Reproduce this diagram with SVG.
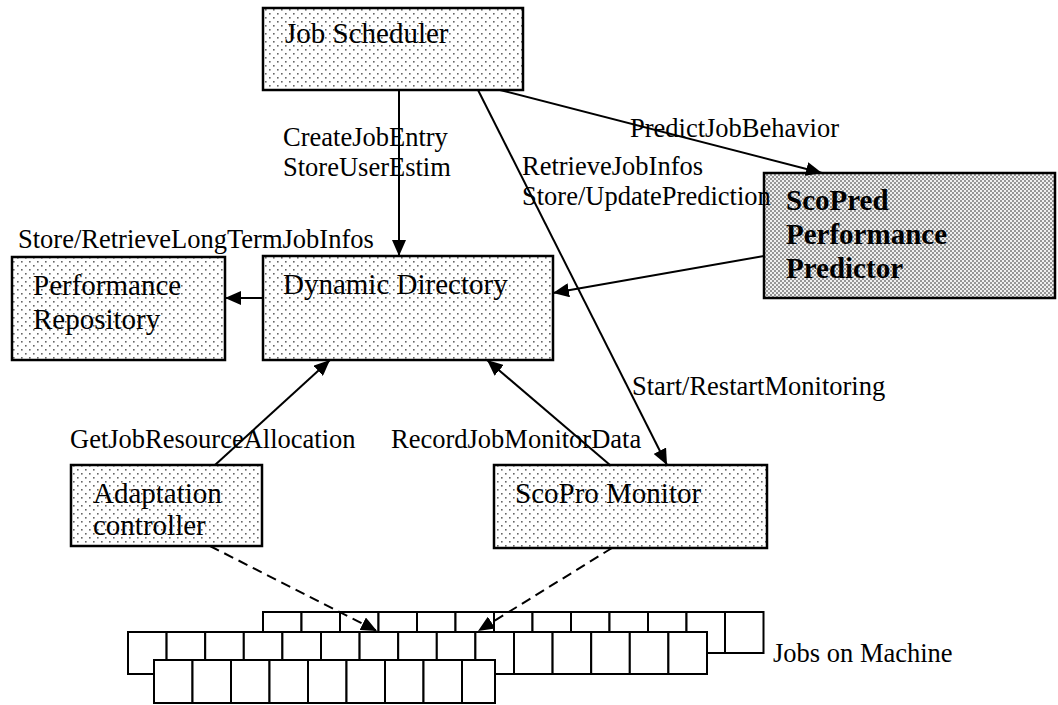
<svg xmlns="http://www.w3.org/2000/svg" width="1058" height="705" viewBox="0 0 1058 705">
<style>
.box{stroke:#000;stroke-width:2.5;fill:url(#dots)}
.dense{stroke:#000;stroke-width:2.5;fill:url(#dense)}
.bt{font-family:"Liberation Serif","Times New Roman",serif;font-size:29px;fill:#000}
.bb{font-family:"Liberation Serif","Times New Roman",serif;font-size:29px;font-weight:bold;fill:#000}
.lbl{font-family:"Liberation Serif","Times New Roman",serif;font-size:26.5px;fill:#000}
.ln{stroke:#000;stroke-width:2;fill:none}
.dash{stroke:#000;stroke-width:2;fill:none;stroke-dasharray:10 6}
.cell{stroke:#000;stroke-width:2;fill:#fff}
</style>
<defs>
<pattern id="dots" width="8" height="8" patternUnits="userSpaceOnUse">
<rect width="8" height="8" fill="#fff"/>
<rect x="1" y="1" width="1.6" height="1.6" fill="#666"/>
<rect x="5" y="5" width="1.6" height="1.6" fill="#666"/>
</pattern>
<pattern id="dense" width="4" height="4" patternUnits="userSpaceOnUse">
<rect width="4" height="4" fill="#f0f0f0"/>
<circle cx="1" cy="1" r="0.95" fill="#707070"/>
<circle cx="3" cy="3" r="0.95" fill="#707070"/>
</pattern>
<marker id="arr" viewBox="0 0 16 14" refX="16" refY="7" markerWidth="16" markerHeight="14" orient="auto" markerUnits="userSpaceOnUse">
<path d="M0,0 L16,7 L0,14 z" fill="#000"/>
</marker>
</defs>

<g id="jobs">
<g id="row-top">
<rect class="cell" x="263" y="612" width="38.5" height="41"/>
<rect class="cell" x="301.5" y="612" width="38.5" height="41"/>
<rect class="cell" x="340" y="612" width="38.5" height="41"/>
<rect class="cell" x="378.5" y="612" width="38.5" height="41"/>
<rect class="cell" x="417" y="612" width="38.5" height="41"/>
<rect class="cell" x="455.5" y="612" width="38.5" height="41"/>
<rect class="cell" x="494" y="612" width="38.5" height="41"/>
<rect class="cell" x="532.5" y="612" width="38.5" height="41"/>
<rect class="cell" x="571" y="612" width="38.5" height="41"/>
<rect class="cell" x="609.5" y="612" width="38.5" height="41"/>
<rect class="cell" x="648" y="612" width="38.5" height="41"/>
<rect class="cell" x="686.5" y="612" width="38.5" height="41"/>
<rect class="cell" x="725" y="612" width="38.5" height="41"/>
</g>
<g id="row-mid">
<rect class="cell" x="128" y="632" width="38.6" height="42"/>
<rect class="cell" x="166.6" y="632" width="38.6" height="42"/>
<rect class="cell" x="205.2" y="632" width="38.6" height="42"/>
<rect class="cell" x="243.8" y="632" width="38.6" height="42"/>
<rect class="cell" x="282.4" y="632" width="38.6" height="42"/>
<rect class="cell" x="321" y="632" width="38.6" height="42"/>
<rect class="cell" x="359.6" y="632" width="38.6" height="42"/>
<rect class="cell" x="398.2" y="632" width="38.6" height="42"/>
<rect class="cell" x="436.8" y="632" width="38.6" height="42"/>
<rect class="cell" x="475.4" y="632" width="38.6" height="42"/>
<rect class="cell" x="514" y="632" width="38.6" height="42"/>
<rect class="cell" x="552.6" y="632" width="38.6" height="42"/>
<rect class="cell" x="591.2" y="632" width="38.6" height="42"/>
<rect class="cell" x="629.8" y="632" width="38.6" height="42"/>
<rect class="cell" x="668.4" y="632" width="38.6" height="42"/>
</g>
<g id="row-bot">
<rect class="cell" x="154" y="660" width="38.5" height="43"/>
<rect class="cell" x="192.5" y="660" width="38.5" height="43"/>
<rect class="cell" x="231" y="660" width="38.5" height="43"/>
<rect class="cell" x="269.5" y="660" width="38.5" height="43"/>
<rect class="cell" x="308" y="660" width="38.5" height="43"/>
<rect class="cell" x="346.5" y="660" width="38.5" height="43"/>
<rect class="cell" x="385" y="660" width="38.5" height="43"/>
<rect class="cell" x="423.5" y="660" width="38.5" height="43"/>
<rect class="cell" x="462" y="660" width="33" height="43"/>
</g>
<text class="lbl" x="773" y="662">Jobs on Machine</text>
</g>

<g id="job-scheduler">
<rect class="box" x="263" y="8" width="260" height="82"/>
<text class="bt" x="285" y="43">Job Scheduler</text>
</g>

<g id="scopred">
<rect class="dense" x="764" y="173" width="291" height="125"/>
<text class="bb" x="786" y="210">ScoPred</text>
<text class="bb" x="786" y="244">Performance</text>
<text class="bb" x="786" y="278">Predictor</text>
</g>

<g id="performance-repository">
<rect class="box" x="12" y="257" width="213" height="103"/>
<text class="bt" x="33" y="295">Performance</text>
<text class="bt" x="33" y="329">Repository</text>
</g>

<g id="dynamic-directory">
<rect class="box" x="263" y="256" width="290" height="104"/>
<text class="bt" x="283" y="294">Dynamic Directory</text>
</g>

<g id="adaptation-controller">
<rect class="box" x="71" y="465" width="191" height="81"/>
<text class="bt" x="93" y="503">Adaptation</text>
<text class="bt" x="93" y="535">controller</text>
</g>

<g id="scopro-monitor">
<rect class="box" x="494" y="465" width="273" height="83"/>
<text class="bt" x="515" y="503">ScoPro Monitor</text>
</g>

<g id="connectors">
<line class="ln" x1="399" y1="90" x2="399" y2="256" marker-end="url(#arr)"/>
<line class="ln" x1="478" y1="90" x2="667" y2="465" marker-end="url(#arr)"/>
<line class="ln" x1="500" y1="90" x2="822" y2="173" marker-end="url(#arr)"/>
<line class="ln" x1="764" y1="256" x2="553" y2="293" marker-end="url(#arr)"/>
<line class="ln" x1="263" y1="298" x2="225" y2="298" marker-end="url(#arr)"/>
<line class="ln" x1="215" y1="465" x2="330" y2="360" marker-end="url(#arr)"/>
<line class="ln" x1="610" y1="465" x2="487" y2="360" marker-end="url(#arr)"/>
<line class="dash" x1="210" y1="546" x2="377" y2="631" marker-end="url(#arr)"/>
<line class="dash" x1="612" y1="548" x2="478" y2="631" marker-end="url(#arr)"/>
</g>

<g id="labels">
<text class="lbl" x="283" y="146">CreateJobEntry</text>
<text class="lbl" x="283" y="176">StoreUserEstim</text>
<text class="lbl" x="630" y="137">PredictJobBehavior</text>
<text class="lbl" x="522" y="175">RetrieveJobInfos</text>
<text class="lbl" x="522" y="205">Store/UpdatePrediction</text>
<text class="lbl" x="18" y="248">Store/RetrieveLongTermJobInfos</text>
<text class="lbl" x="632" y="395">Start/RestartMonitoring</text>
<text class="lbl" x="70" y="448">GetJobResourceAllocation</text>
<text class="lbl" x="391" y="448">RecordJobMonitorData</text>
</g>
</svg>
